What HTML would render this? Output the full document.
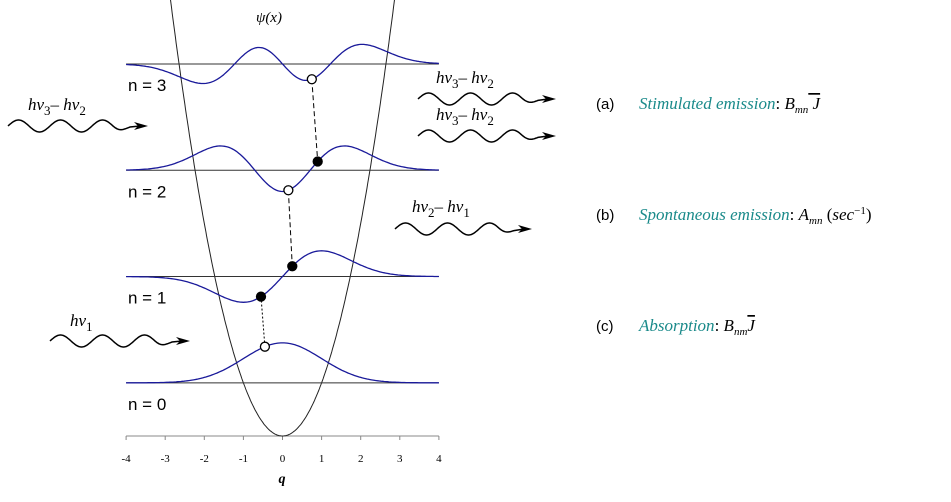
<!DOCTYPE html>
<html><head><meta charset="utf-8"><style>
html,body{margin:0;padding:0;background:#fff;width:951px;height:502px;overflow:hidden}
svg text{font-family:"Liberation Sans",sans-serif}
.ser{font-family:"Liberation Serif",serif}
</style></head><body>
<svg id="c" width="951" height="502">
</svg>
<script>
const levels=[0,1,2,3];
const levelScale=[40,30,30,25];
const ticks=[-4,-3,-2,-1,0,1,2,3,4];
const dotQ=[[ -0.45],[ -0.55,0.25],[0.15,0.9],[0.75]];
const dotFilled=[[false],[true,true],[false,true],[false]];
const svg=document.getElementById('c');
const NS='http://www.w3.org/2000/svg';
const X=q=>282.5+q*39.1;
const Y0=436, dE=106.3;
const LY=n=>Y0-dE*(n+0.5);
function el(t,a,p){const e=document.createElementNS(NS,t);for(const k in a)e.setAttribute(k,a[k]);(p||svg).appendChild(e);return e;}
function txt(x,y,s,a){const e=el('text',Object.assign({x:x,y:y},a||{}));e.innerHTML=s;return e;}
function psi(n,q){const g=Math.exp(-q*q/2);
 if(n==0)return g; if(n==1)return Math.SQRT2*q*g;
 if(n==2)return (2*q*q-1)/Math.SQRT2*g; return (2*q*q*q-3*q)/Math.sqrt(3)*g;}
const ax=el('g',{});

el('line',{x1:X(-4),y1:436,x2:X(4),y2:436,stroke:'#888','stroke-width':1},ax);
ticks.forEach(t=>{el('line',{x1:X(t),y1:436,x2:X(t),y2:440,stroke:'#888'},ax);
 const l=txt(X(t),462,String(t),{'text-anchor':'middle','font-size':11,class:'ser'});ax.appendChild(l);});
const qt=txt(282,483,'q',{'text-anchor':'middle','font-size':14,'font-style':'italic','font-weight':'bold',class:'ser'});

const pt=txt(256,22,'ψ(x)',{'font-size':15,'font-style':'italic',class:'ser'});

let d='';for(let q=-2.9;q<=2.9;q+=0.02){const y=Y0-dE*q*q/2;d+=(d?'L':'M')+X(q).toFixed(1)+','+y.toFixed(1);}
const par=el('path',{d:d,fill:'none',stroke:'#222','stroke-width':1});

levels.forEach(n=>{
 const ly=LY(n);
 const b=el('line',{x1:X(-4),y1:ly,x2:X(4),y2:ly,stroke:'#333','stroke-width':1});
 
 let p='';for(let q=-4;q<=4.001;q+=0.04){p+=(p?'L':'M')+X(q).toFixed(1)+','+(ly-levelScale[n]*psi(n,q)).toFixed(1);}
 const w=el('path',{d:p,fill:'none',stroke:'#1a1a9a','stroke-width':1.3});
 
 const t=txt(128,ly+27,'n = '+n,{'font-size':17});
 
});
function dotPos(n,i){const q=dotQ[n][i];return [X(q),LY(n)-levelScale[n]*psi(n,q)];}
[[[3,0],[2,1],'5,3'],[[2,0],[1,1],'5,3'],[[1,0],[0,0],'2,2']].forEach((t,i)=>{
 const a=dotPos(...t[0]),b=dotPos(...t[1]);
 const l=el('line',{x1:a[0],y1:a[1],x2:b[0],y2:b[1],stroke:'#000','stroke-dasharray':t[2]});
 
});
levels.forEach(n=>dotQ[n].forEach((q,i)=>{const p=dotPos(n,i);
 const c=el('circle',{cx:p[0],cy:p[1],r:4.5,fill:dotFilled[n][i]?'#000':'#fff',stroke:'#000','stroke-width':1.3});
 }));
function wavy(x0,y,x1,name){let p='';for(let x=x0;x<=x1-18;x+=1){const yy=y-6*Math.sin((x-x0)/42*2*Math.PI)*Math.min(1,(x1-18-x)/25+0.3);p+=(p?'L':'M')+x+','+yy.toFixed(1);}
 p+='L'+(x1-8)+','+y;
 const g=el('g',{});
 el('path',{d:p,fill:'none',stroke:'#000','stroke-width':1.5},g);
 el('polygon',{points:(x1)+','+y+' '+(x1-14)+','+(y-4)+' '+(x1-10)+','+y+' '+(x1-14)+','+(y+4),fill:'#000'},g);}
wavy(8,126,148,'photon-arrow-32-left');
wavy(418,99,556,'photon-arrow-32-a');
wavy(418,136,556,'photon-arrow-32-b');
wavy(395,229,532,'photon-arrow-21');
wavy(50,341,190,'photon-arrow-1');
function plab(x,y,s,name){const t=txt(x,y,s,{'font-size':17,'font-style':'italic',class:'ser'});}
plab(28,110,'hν<tspan font-size="13" dy="5" font-style="normal">3</tspan><tspan dy="-5">– hν</tspan><tspan font-size="13" dy="5" font-style="normal">2</tspan>','photon-label-left');
plab(436,83,'hν<tspan font-size="13" dy="5" font-style="normal">3</tspan><tspan dy="-5">– hν</tspan><tspan font-size="13" dy="5" font-style="normal">2</tspan>','photon-label-a1');
plab(436,120,'hν<tspan font-size="13" dy="5" font-style="normal">3</tspan><tspan dy="-5">– hν</tspan><tspan font-size="13" dy="5" font-style="normal">2</tspan>','photon-label-a2');
plab(412,212,'hν<tspan font-size="13" dy="5" font-style="normal">2</tspan><tspan dy="-5">– hν</tspan><tspan font-size="13" dy="5" font-style="normal">1</tspan>','photon-label-21');
plab(70,326,'hν<tspan font-size="13" dy="5" font-style="normal">1</tspan>','photon-label-1');
function rt(y,lab,teal,math,name){const t=txt(596,y,'',{'font-size':15});
 t.innerHTML='<tspan>'+lab+'</tspan><tspan x="639" fill="#1a8a8a" font-style="italic" class="ser" font-size="17">'+teal+'</tspan><tspan class="ser" font-size="17">'+math+'</tspan>';}
rt(109,'(a)','Stimulated emission','<tspan>: </tspan><tspan font-style="italic">B</tspan><tspan font-size="11" dy="4" font-style="italic">mn</tspan><tspan dy="-4" font-style="italic" text-decoration="overline"> J</tspan>','legend-stimulated');
rt(220,'(b)','Spontaneous emission','<tspan>:  </tspan><tspan font-style="italic">A</tspan><tspan font-size="11" dy="4" font-style="italic">mn</tspan><tspan dy="-4">  (</tspan><tspan font-style="italic">sec</tspan><tspan font-size="11" dy="-6">−1</tspan><tspan dy="6">)</tspan>','legend-spontaneous');
rt(331,'(c)','Absorption','<tspan>: </tspan><tspan font-style="italic">B</tspan><tspan font-size="11" dy="4" font-style="italic">nm</tspan><tspan dy="-4" font-style="italic" text-decoration="overline">J</tspan>','legend-absorption');
</script>
</body></html>
